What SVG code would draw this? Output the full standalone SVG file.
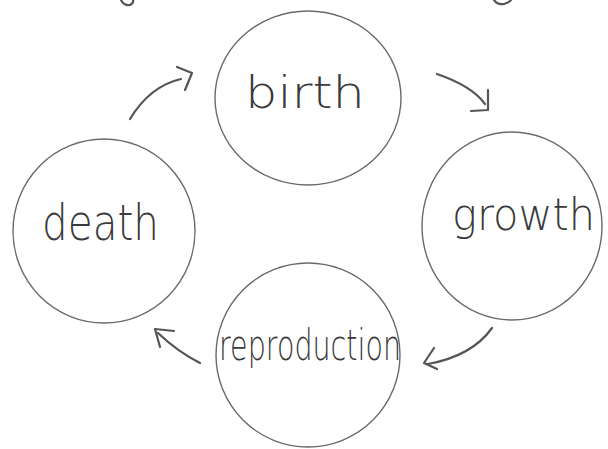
<svg xmlns="http://www.w3.org/2000/svg" width="608" height="449" viewBox="0 0 608 449">
<style>
.c{fill:none;stroke:#6a6a6a;stroke-width:1.4}
.a{fill:none;stroke:#555;stroke-width:2.2;stroke-linecap:round;stroke-linejoin:round}
.t{font-family:"DejaVu Sans","Liberation Sans",sans-serif;fill:#3a3a3a;font-weight:200}
</style>
<rect width="608" height="449" fill="#fff"/>
<path class="a" d="M121,0 Q124,6 130,5 Q134,3 133,0"/>
<path class="a" d="M494,0 Q497,5 504,4 Q510,2 511,0"/>
<g id="birth">
<ellipse class="c" cx="308" cy="98" rx="93" ry="87"/>
<text class="t" x="245" y="108" font-size="44" textLength="120" lengthAdjust="spacingAndGlyphs">birth</text>
</g>
<g id="growth">
<ellipse class="c" cx="512" cy="226" rx="90" ry="94"/>
<text class="t" x="452" y="230" font-size="44" textLength="143" lengthAdjust="spacingAndGlyphs">growth</text>
</g>
<g id="reproduction">
<ellipse class="c" cx="308" cy="355" rx="92" ry="92"/>
<text class="t" x="219" y="360" font-size="42" textLength="182" lengthAdjust="spacingAndGlyphs">reproduction</text>
</g>
<g id="death">
<ellipse class="c" cx="104" cy="231" rx="91" ry="92"/>
<text class="t" x="42" y="240" font-size="50" textLength="117" lengthAdjust="spacingAndGlyphs">death</text>
</g>
<g id="connectors">
<path class="a" d="M130,119 Q150,86 181,79"/>
<path class="a" d="M177,67 L192,73 L185,90"/>
<path class="a" d="M437,74 Q472,86 485,104"/>
<path class="a" d="M488,90 L488,110 L471,111"/>
<path class="a" d="M492,328 Q472,356 428,364"/>
<path class="a" d="M434,348 L424,363 L437,369"/>
<path class="a" d="M200,363 Q178,352 158,333"/>
<path class="a" d="M174,331 L155,329 L160,347"/>
</g>
</svg>
